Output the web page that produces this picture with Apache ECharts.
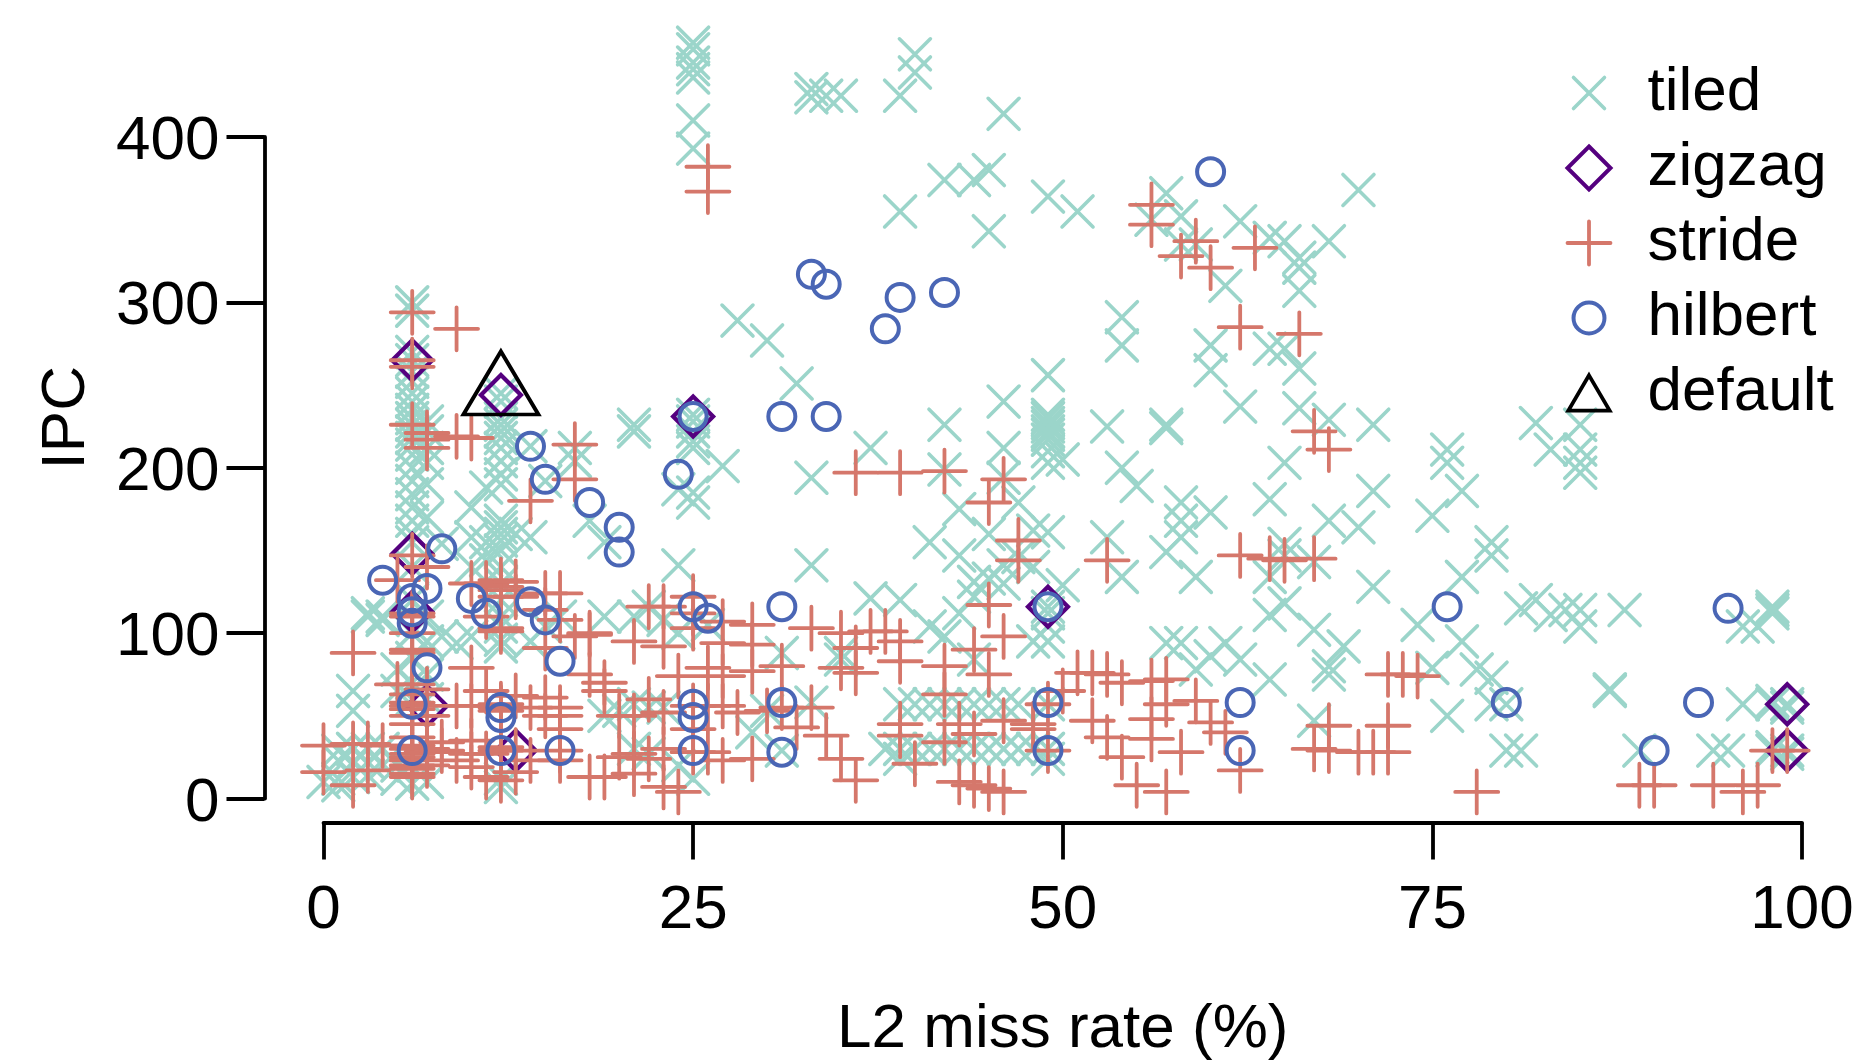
<!DOCTYPE html>
<html><head><meta charset="utf-8">
<style>html,body{margin:0;padding:0;background:#fff}#c{width:1865px;height:1060px}</style>
<script src="https://cdn.jsdelivr.net/npm/echarts@6/dist/echarts.min.js"></script>
</head><body><div id="c"></div>
<script>
const xTicks = [0,25,50,75,100];
const yTicks = [0,100,200,300,400];
const tiled = [
[25,457],[25,453],[25,445],[25,441],[25,436],[25,410],[25,393],
[33,429],[33,424],[34,425],[35,425],[39,425],[40,450],[40,439],[46,414],[39,355],[42,374],[44,374],[45,380],[45,343],[49,364],[51,355],
[57,366],[56,350],[58,352],[59,335],[58,335],[62,349],[61,310],[54,291],[54,274],[60,274],[60,259],[49,256],[46,240],[42,226],[30,277],[32,251],[28,289],
[70,368],[64,339],[65,337],[66,327],[68,337],[66,307],[66,321],[64,272],[65,272],[66,260],[62,237],[66,236],[68,229],[71,226],[82,227],[85,226],[53,225],[57,226],[57,224],
[65,203],[76,211],[76,203],[83,211],[85,211],[85,203],[85,197],[71,186],[64,181],[77,186],[75,171],[68,168],[70,164],[79,155],[79,147],[65,154],[65,147],[64,134],[67,143],[71,128],[77,134],
[65,118],[64,111],[67,102],[74,105],[81,115],[82,120],[83,111],[84,114],[85,114],[85,104],[88,114],[98,116],[98,114],[98,112],[96,104],[97,104],[77,95],[69,92],[68,80],[68,75],[64,72],[75,79],[78,78],[79,73],[79,57],[80,57],[76,50],[67,47],[87,66],[87,65],
[96,57],[98,57],[99,57],[98,59],[99,55],[80,29],[81,29],[89,29],[94,29],[95,29],[98,29],[99,29],[98,31],[99,27],
[49,232],[49,230],[49,227],[49,225],[49,222],[49,220],[49,217],[49,210],[49,203],[50,205],[46,212],[46,194],[37,212],[33,194],[42,199],[54,200],[55,189],[58,179],[58,168],[58,158],[60,173],[57,149],
[43,175],[45,160],[47,179],[48,162],[49,161],[41,155],[43,147],[46,141],[47,146],[48,140],[53,158],[54,134],[59,134],[50,129],[44,131],[33,141],[37,121],[39,120],[43,112],[45,133],[46,130],[44,122],
[57,94],[58,94],[61,94],[60,86],[59,78],[62,84],[41,104],[42,98],[48,95],[49,95],[49,104],[49,116],[49,112],[31,88],[35,88],[35,84],[44,84],
[39,57],[40,57],[41,57],[42,57],[43,57],[44,57],[45,57],[46,57],[47,57],[49,57],[38,30],[39,30],[40,30],[41,30],[42,30],[43,30],[45,30],[46,30],[47,30],[48,30],[49,30],[39,24],[49,24],[44,30],
[6,300],[6,295],[6,270],[6,265],[6,258],[6,252],[6,245],[6,240],[6,235],[6,230],[6,226],[6,222],[6,218],[6,214],[6,208],[6,200],[6,192],[6,184],[6,176],[6,168],[6,160],[6,155],[6,140],[6,120],[6,100],[6,85],[6,70],[6,60],
[7,222],[7,203],[7,190],[7,170],[7,95],[7,75],[7,110],[7,60],[7,228],[7,212],
[12,245],[12,240],[12,230],[12,226],[12,222],[12,218],[12,212],[12,204],[12,196],[12,190],[12,168],[12,164],[12,160],[12,156],[12,150],[12,140],[12,130],[12,120],[12,110],[12,104],[12,96],[12,92],
[10,176],[10,158],[11,188],[11,155],[13,160],[14,158],[10,140],[11,144],[17,212],[17,204],[18,168],[19,155],[8,154],[8,98],[9,94],[10,98],[14,95],[15,104],[16,110],
[24,141],[25,232],[25,228],[25,222],[25,216],[25,212],[25,185],[25,179],[27,201],[24,187],[21,226],[21,222],[14,213],[15,192],
[3,110],[3,112],[4,108],[4,110],[19,110],[21,110],[22,116],[23,108],[24,100],[26,105],[2,65],[2,53],[5,78],[5,65],[20,53],[21,57],[22,55],[23,55],[19,50],
[1,23],[1,12],[2,13],[3,30],[3,22],[4,30],[4,20],[5,12],[5,20],[2,30],[1,29],[2,22],[1,8],[0,10],[3,14],[12,7],[6,9],[7,10],[12,12],[25,12],[24,20],[22,27],[21,30],
[31,29],[30,53],[33,58],[29,40]
];
const zigzag = [[6,265],[12,244],[25,231],[6,148],[6,113],[7,56],[13,29],[49,116],[99,57],[99,29]];
const stride = [
[26,382],[26,367],[6,294],[6,265],[6,261],[9,284],[6,226],[7,221],[7,217],[7,212],[9,219],[10,218],[17,214],[17,193],[14,180],
[6,147],[7,140],[5,132],[10,130],[11,130],[12,132],[12,128],[12,126],[12,122],[11,110],[12,103],[12,101],[13,131],[13,122],[15,124],[16,124],[15,114],[16,108],[15,91],[18,100],[18,99],[17,98],
[21,95],[22,116],[23,116],[23,92],[25,122],[25,112],[25,103],[27,107],[27,94],[24,74],[26,79],[27,74],[2,88],
[6,112],[6,110],[6,100],[6,90],[6,88],[6,69],[6,63],[6,58],[6,56],[6,54],[6,50],[6,45],[6,37],[6,32],[6,30],[6,27],[6,25],[6,23],[6,20],[6,18],[6,15],[6,13],[5,69],[7,66],[7,50],[7,30],[7,28],[7,20],
[9,56],[10,79],[10,56],[11,65],[12,57],[12,55],[12,53],[12,31],[12,29],[13,62],[14,55],[15,61],[16,55],[15,50],[16,42],[16,50],[18,75],[19,70],[19,65],[22,60],[21,50],[20,50],[23,52],[25,56],[25,42],[26,56],[27,56],[28,52],
[0,32],[0,16],[2,33],[2,8],[3,33],[3,17],[4,32],[8,34],[8,29],[9,23],[10,35],[10,27],[10,19],[11,27],[11,13],[12,11],[13,29],[13,16],[14,23],[16,29],[16,23],[18,13],[19,13],[20,25],[21,27],[21,15],[22,24],[23,30],[23,7],[24,4],[25,28],[26,28],[27,23],
[36,197],[39,197],[42,198],[46,193],[45,179],[47,156],[47,144],[53,144],[62,147],[45,117],[46,98],[44,90],[42,80],[45,75],[39,95],[39,83],[38,101],[37,101],[36,91],[36,76],[35,79],[35,100],[33,103],[31,80],[29,105],[29,93],[29,77],
[42,63],[46,47],[48,45],[48,42],[49,57],[49,29],[39,45],[39,38],[43,45],[44,39],[42,34],[40,21],[43,10],[44,8],[45,6],[46,4],[36,11],[35,24],[34,38],[33,55],[32,43],[31,55],[30,53],[29,24],
[51,76],[52,76],[53,75],[54,70],[50,65],[52,47],[53,37],[54,25],[55,8],[56,71],[56,48],[56,36],[57,72],[57,4],[58,28],[59,59],[60,46],[61,40],[62,17],[57,57],
[64,145],[65,144],[67,145],[67,222],[68,211],[72,75],[73,75],[74,74],[68,44],[72,44],[67,30],[68,29],[70,28],[71,28],[72,28],
[78,4],[89,8],[90,8],[94,8],[96,4],[97,8],[98,29],[99,29],
[56,359],[56,347],[59,337],[58,328],[60,321],[62,285],[63,333],[66,281]
];
const hilbert = [
[33,317],[34,311],[38,284],[39,303],[42,306],[60,379],[31,231],[34,231],
[8,151],[4,132],[6,121],[6,113],[6,106],[7,127],[7,79],[6,57],[6,29],[10,121],[11,112],[14,119],[15,108],[16,83],[14,213],[15,193],[18,179],[20,164],[20,149],[24,196],[25,116],[26,109],[12,55],[12,49],[12,29],[16,29],[25,57],[25,49],[25,29],[25,231],
[31,116],[31,58],[31,28],[49,116],[49,58],[49,29],[62,58],[62,29],[76,116],[80,58],[90,29],[93,58],[95,115]
];
const defaultPts = [[12,244]];

const cTiled='#9BD5CA', cZig='#55007F', cStride='#D5776B', cHil='#4A66B5', cDef='#000000';
const mono = 'Liberation Sans';
const pad = 'M0,0M100,100';
const symX = 'path://M0,0L100,100M100,0L0,100';
const symP = 'path://M50,0L50,100M0,50L100,50';
function base(name,data,symbol,size,color,w,extra){
  return Object.assign({type:'scatter',name,data,symbol,symbolSize:size,clip:false,silent:true,animation:false,
    itemStyle:{color:'transparent',borderColor:color,borderWidth:w,borderCap:'round',opacity:1},
    emphasis:{disabled:true}},extra||{});
}
function li(name,icon,color,w){return {name,icon,itemStyle:{color:'transparent',borderColor:color,borderWidth:w,borderCap:'round',opacity:1}};}
const ch = echarts.init(document.getElementById('c'),null,{renderer:'canvas'});
ch.setOption({
  animation:false,
  backgroundColor:'#fff',
  textStyle:{fontFamily:mono},
  grid:{left:323.5,width:1478.5,top:137,height:661.5,containLabel:false,outerBoundsMode:'none'},
  xAxis:{type:'value',min:0,max:100,interval:25,offset:24,position:'bottom',
    name:'L2 miss rate (%)',nameLocation:'middle',nameGap:176,
    nameTextStyle:{fontSize:62,color:'#000',fontFamily:mono},
    axisLine:{show:true,onZero:false,lineStyle:{color:'#000',width:3.8}},
    axisTick:{show:true,length:37,lineStyle:{color:'#000',width:3.8}},
    axisLabel:{fontSize:62,color:'#000',margin:57,fontFamily:mono,showMinLabel:true,showMaxLabel:true,hideOverlap:false},
    splitLine:{show:false}},
  yAxis:{type:'value',min:0,max:400,interval:100,offset:59,position:'left',
    name:'IPC',nameLocation:'middle',nameGap:167,nameRotate:90,
    nameTextStyle:{fontSize:62,color:'#000',fontFamily:mono,padding:[0,0,0,100]},
    axisLine:{show:true,onZero:false,lineStyle:{color:'#000',width:3.8}},
    axisTick:{show:true,length:38,lineStyle:{color:'#000',width:3.8}},
    axisLabel:{fontSize:62,color:'#000',margin:45,fontFamily:mono,showMinLabel:true,showMaxLabel:true,hideOverlap:false,verticalAlign:'top',lineHeight:10},
    splitLine:{show:false}},
  legend:{orient:'vertical',left:1560.5,top:57,itemWidth:43,itemHeight:43,itemGap:13,selectedMode:false,
    textStyle:{fontSize:62,color:'#000',fontFamily:mono,padding:[0,0,0,32]},
    data:[
      li('tiled','path://'+pad+'M14,14L86,86M86,14L14,86',cTiled,3.6),
      li('zigzag','path://'+pad+'M50,0L100,50L50,100L0,50Z',cZig,4),
      li('stride',symP,cStride,3.8),
      li('hilbert','path://'+pad+'M86,50A36,36 0 1 1 14,50A36,36 0 1 1 86,50Z',cHil,4),
      li('default','path://'+pad+'M50,9L98,91L2,91Z',cDef,3.8)
    ]},
  series:[
    base('tiled',tiled,symX,31,cTiled,3.6),
    base('zigzag',zigzag,'diamond',40,cZig,4.2),
    base('stride',stride,symP,43,cStride,3.8),
    base('hilbert',hilbert,'circle',27,cHil,4),
    base('default',defaultPts,'triangle',[75,63],cDef,3.8,{symbolOffset:[0,-12]})
  ]
});
</script></body></html>
